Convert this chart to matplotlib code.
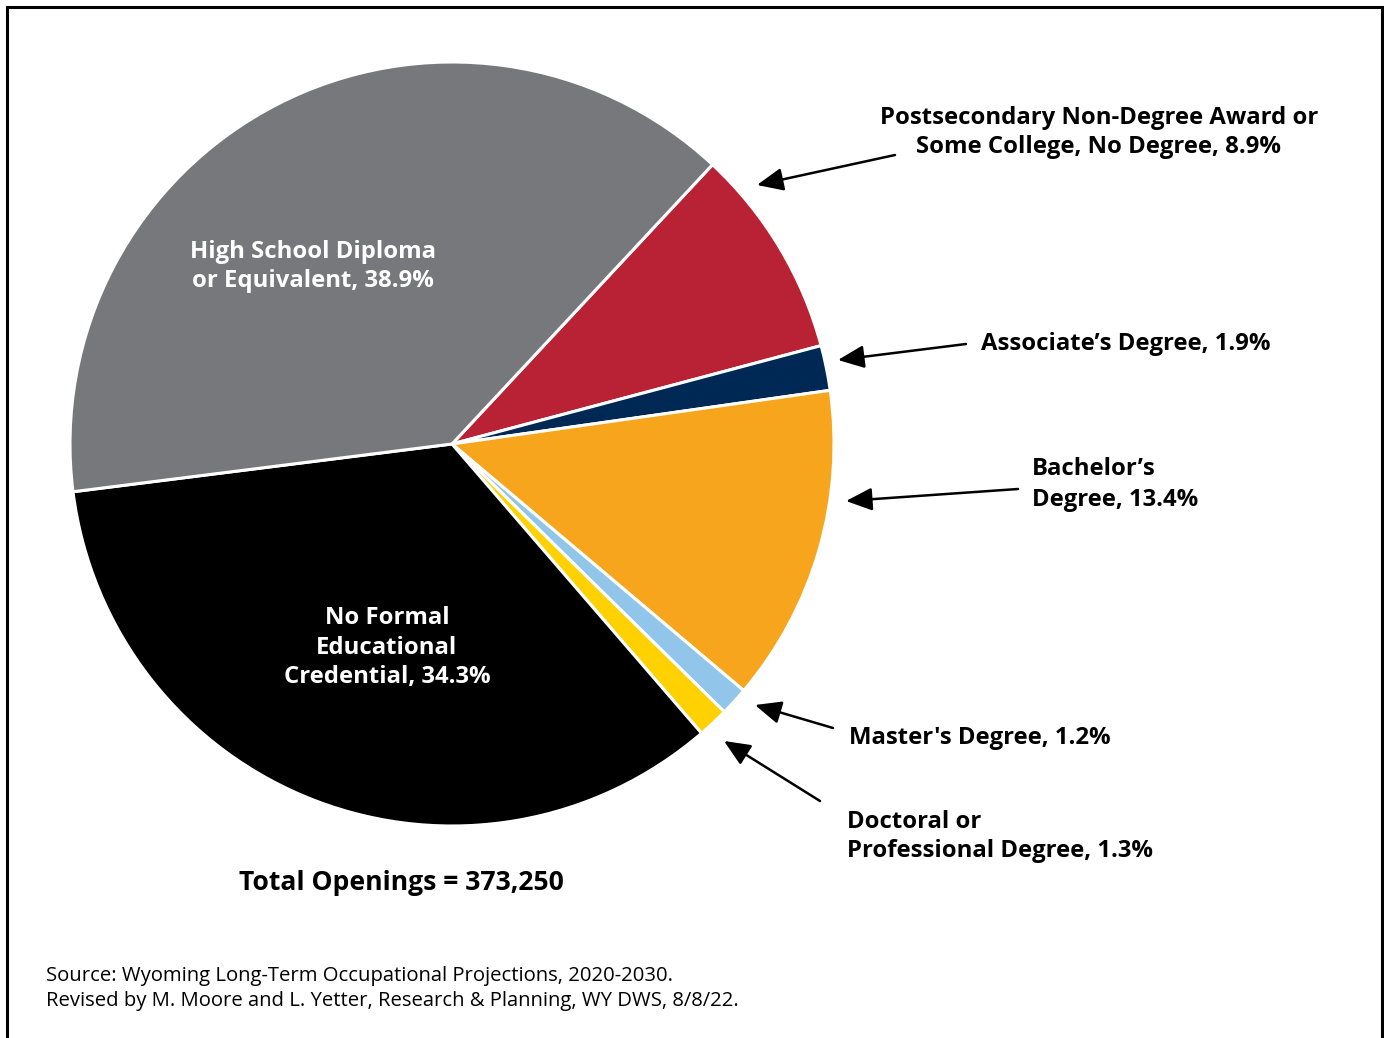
import matplotlib
matplotlib.use("Agg")
import matplotlib.pyplot as plt
from matplotlib.patches import Rectangle

# Education levels, share of total openings (%)
categories = [
    "Postsecondary Non-Degree Award or Some College, No Degree",
    "Associate's Degree",
    "Bachelor's Degree",
    "Master's Degree",
    "Doctoral or Professional Degree",
    "No Formal Educational Credential",
    "High School Diploma or Equivalent",
]
shares = [8.9, 1.9, 13.4, 1.2, 1.3, 34.3, 38.9]
colors = ["#b92234", "#002855", "#f8a51e", "#92c5ea", "#ffd100", "#000000", "#77787b"]
total_openings = "373,250"

W, H = 1384, 1038
fig = plt.figure(figsize=(W / 100, H / 100), dpi=100)
ax = fig.add_axes([0, 0, 1, 1])
plt.rcParams["font.family"] = ["Open Sans", "DejaVu Sans"]


def Y(y):
    # pixel row (from top) to data y, nudged for the font's vertical centre
    return H - y


def T(y):
    return H - y - 2.5


ax.pie(shares, colors=colors, startangle=47, counterclock=False,
       center=(452, Y(444)), radius=382,
       wedgeprops=dict(edgecolor="white", linewidth=2.2))
ax.set_xlim(0, W)
ax.set_ylim(0, H)
ax.set_aspect("equal")
ax.axis("off")

# outer frame
ax.add_patch(Rectangle((7, -10), 1375, Y(7) + 10, fill=False,
                       edgecolor="black", linewidth=2.2, clip_on=False))

fs = 17.2
bold = dict(fontsize=fs, fontweight="bold", linespacing=1.29)

ax.text(313, T(264), f"High School Diploma\nor Equivalent, {shares[6]}%",
        color="white", ha="center", va="center", **bold)
ax.text(387, T(645), f"No Formal\nEducational\nCredential, {shares[5]}%",
        color="white", ha="center", va="center", **bold)

ax.text(1099, T(130), f"Postsecondary Non-Degree Award or\nSome College, No Degree, {shares[0]}%",
        ha="center", va="center", **bold)
ax.text(981, T(341), f"Associate\u2019s Degree, {shares[1]}%",
        ha="left", va="center", **bold)
ax.text(1032, T(482), f"Bachelor\u2019s\nDegree, {shares[2]}%",
        ha="left", va="center", fontsize=fs, fontweight="bold", linespacing=1.4)
ax.text(849, T(736), f"Master's Degree, {shares[3]}%",
        ha="left", va="center", **bold)
ax.text(847, T(834), f"Doctoral or\nProfessional Degree, {shares[4]}%",
        ha="left", va="center", **bold)

ax.text(401, T(880), f"Total Openings = {total_openings}",
        ha="center", va="center", fontsize=19.1, fontweight="bold")

ax.text(46, T(986), "Source: Wyoming Long-Term Occupational Projections, 2020-2030.\n"
        "Revised by M. Moore and L. Yetter, Research & Planning, WY DWS, 8/8/22.",
        ha="left", va="center", fontsize=14.6, linespacing=1.37)

arrows = [
    ((895, 155), (757, 185)),
    ((966, 344), (838, 360)),
    ((1018, 489), (846, 501)),
    ((833, 728), (755, 705)),
    ((820, 801), (724, 741)),
]
for (x0, y0), (x1, y1) in arrows:
    ax.annotate("", xy=(x1, Y(y1)), xytext=(x0, Y(y0)),
                arrowprops=dict(arrowstyle="-|>,head_length=0.8,head_width=0.35",
                                mutation_scale=20, color="black", lw=1.8,
                                shrinkA=0, shrinkB=0))

fig.savefig("out.png", dpi=100)
